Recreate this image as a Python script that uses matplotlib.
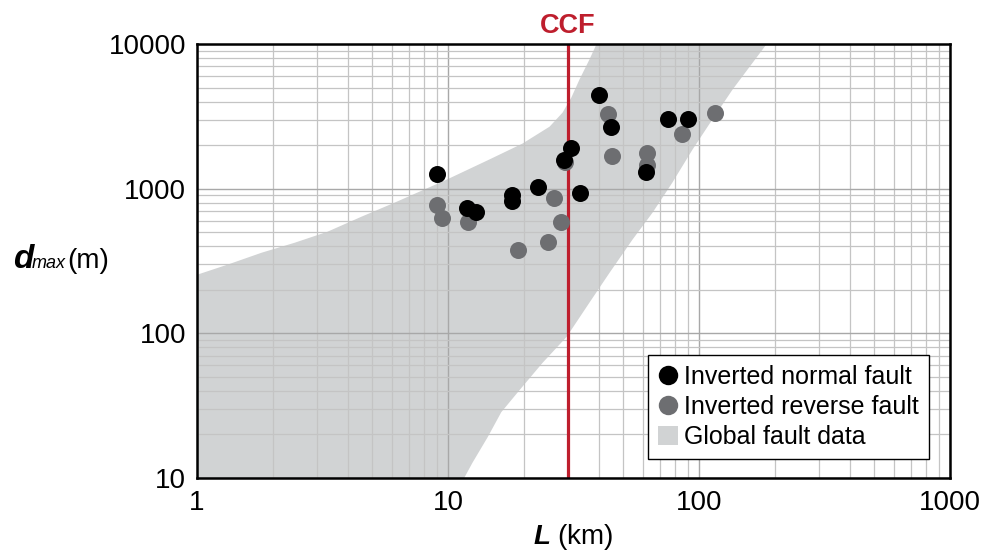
import numpy as np
import matplotlib
matplotlib.use("Agg")
import matplotlib.pyplot as plt
from matplotlib.lines import Line2D
from matplotlib.patches import Patch
from matplotlib.ticker import FixedLocator, FixedFormatter, LogLocator, NullFormatter

plt.rcParams['font.family'] = ['Liberation Sans', 'DejaVu Sans']
plt.rcParams['mathtext.fontset'] = 'custom'
plt.rcParams['mathtext.rm'] = 'Liberation Sans'
plt.rcParams['mathtext.it'] = 'Liberation Sans:italic'
plt.rcParams['mathtext.bf'] = 'Liberation Sans:italic:bold'

# inverted normal faults (L in km, dmax in m)
normal_L = [40, 44.6, 75, 90, 61.5, 31, 29, 33.6, 22.8, 18, 18, 9.0, 11.9, 12.9]
normal_d = [4450, 2650, 3050, 3050, 1300, 1900, 1580, 940, 1020, 910, 820, 1270, 740, 690]

# inverted reverse faults
reverse_L = [43.4, 85.5, 116, 45, 62, 62, 29.2, 26.4, 28.2, 25, 19, 9.05, 9.5, 12]
reverse_d = [3300, 2400, 3350, 1680, 1760, 1450, 1520, 860, 590, 425, 375, 775, 625, 590]

# outline of global fault data envelope: upper edge (left to right)
upper_L = [0.85, 1.0, 1.32, 1.81, 2.45, 3.31, 4.52, 6.12, 9.86, 14.6, 19.8, 25.4,
           28.6, 31.0, 33.4, 36.6, 39.0, 41.5]
upper_d = [230, 254, 298, 361, 423, 504, 640, 800, 1153, 1590, 2050, 2685,
           3355, 4265, 5680, 7815, 9930, 12700]
# lower edge (right to left)
lower_L = [200, 186, 136, 113, 94.2, 78.3, 65.3, 54.3, 44.0, 36.6, 29.7, 23.8,
           19.3, 16.3, 14.4, 12.5, 11.6, 11.1]
lower_d = [12600, 10000, 4840, 3005, 1862, 1101, 683, 444, 262, 163, 94.6, 62.5,
           40.6, 28.5, 19.2, 12.7, 10.0, 8.3]
band_L = upper_L + lower_L + [0.85]
band_d = upper_d + lower_d + [8.3]

ccf_L = 30

fig = plt.figure(figsize=(9.9, 5.51), dpi=100)
ax = fig.add_axes([0.199, 0.1325, 0.7606, 0.7876])
ax.set_xscale('log')
ax.set_yscale('log')
ax.set_xlim(1, 1000)
ax.set_ylim(10, 10000)

ax.fill(band_L, band_d, color='#D1D3D4', lw=0, zorder=1)

ax.set_axisbelow(False)
ax.grid(True, which='major', color='#A8A8A8', lw=1.0, zorder=2)
ax.grid(True, which='minor', color='#C4C4C4', lw=0.9, zorder=2)

ax.axvline(ccf_L, color='#BE1E2D', lw=2.3, zorder=3)
ax.text(ccf_L, 10000 * 1.08, 'CCF', color='#BE1E2D', fontsize=19.5, fontweight='bold',
        ha='center', va='bottom')

ax.scatter(reverse_L, reverse_d, s=150, color='#6D6E71', lw=0, zorder=4)
ax.scatter(normal_L, normal_d, s=150, color='black', lw=0, zorder=5)

ax.xaxis.set_major_locator(FixedLocator([1, 10, 100, 1000]))
ax.xaxis.set_major_formatter(FixedFormatter(['1', '10', '100', '1000']))
ax.yaxis.set_major_locator(FixedLocator([10, 100, 1000, 10000]))
ax.yaxis.set_major_formatter(FixedFormatter(['10', '100', '1000', '10000']))
for a in (ax.xaxis, ax.yaxis):
    a.set_minor_locator(LogLocator(base=10, subs=np.arange(2, 10)))
    a.set_minor_formatter(NullFormatter())
ax.tick_params(which='both', length=0, labelsize=20)
ax.tick_params(axis='x', pad=9)
ax.tick_params(axis='y', pad=8)

for s in ax.spines.values():
    s.set_linewidth(1.8)
    s.set_color('black')
    s.set_zorder(6)

ax.set_xlabel(r'$\mathbf{L}$ (km)', fontsize=20, labelpad=4)

# y label built from pieces: bold italic d, small italic "max", then unit
ylab_y = 1 - 268 / 551
fig.text(13 / 990, ylab_y, 'd', fontsize=24, fontweight='bold', fontstyle='italic',
         ha='left', va='baseline')
fig.text(32 / 990, ylab_y, 'max', fontsize=13, fontstyle='italic', ha='left', va='baseline')
fig.text(67 / 990, ylab_y, '(m)', fontsize=20, ha='left', va='baseline')

handles = [
    Line2D([], [], marker='o', color='black', ls='none', markersize=14, markeredgewidth=0),
    Line2D([], [], marker='o', color='#6D6E71', ls='none', markersize=14, markeredgewidth=0),
    Patch(facecolor='#D1D3D4', edgecolor='none'),
]
leg = ax.legend(handles, ['Inverted normal fault', 'Inverted reverse fault', 'Global fault data'],
                loc='upper left', bbox_to_anchor=(0.599, 0.283), borderaxespad=0,
                fontsize=18, frameon=True, fancybox=False, framealpha=1,
                edgecolor='black', handlelength=0.8, handleheight=0.8, handletextpad=0.25,
                labelspacing=0.24, borderpad=0.4)
leg.get_frame().set_linewidth(1.0)
leg.set_zorder(7)

fig.savefig('out.png', dpi=100)
